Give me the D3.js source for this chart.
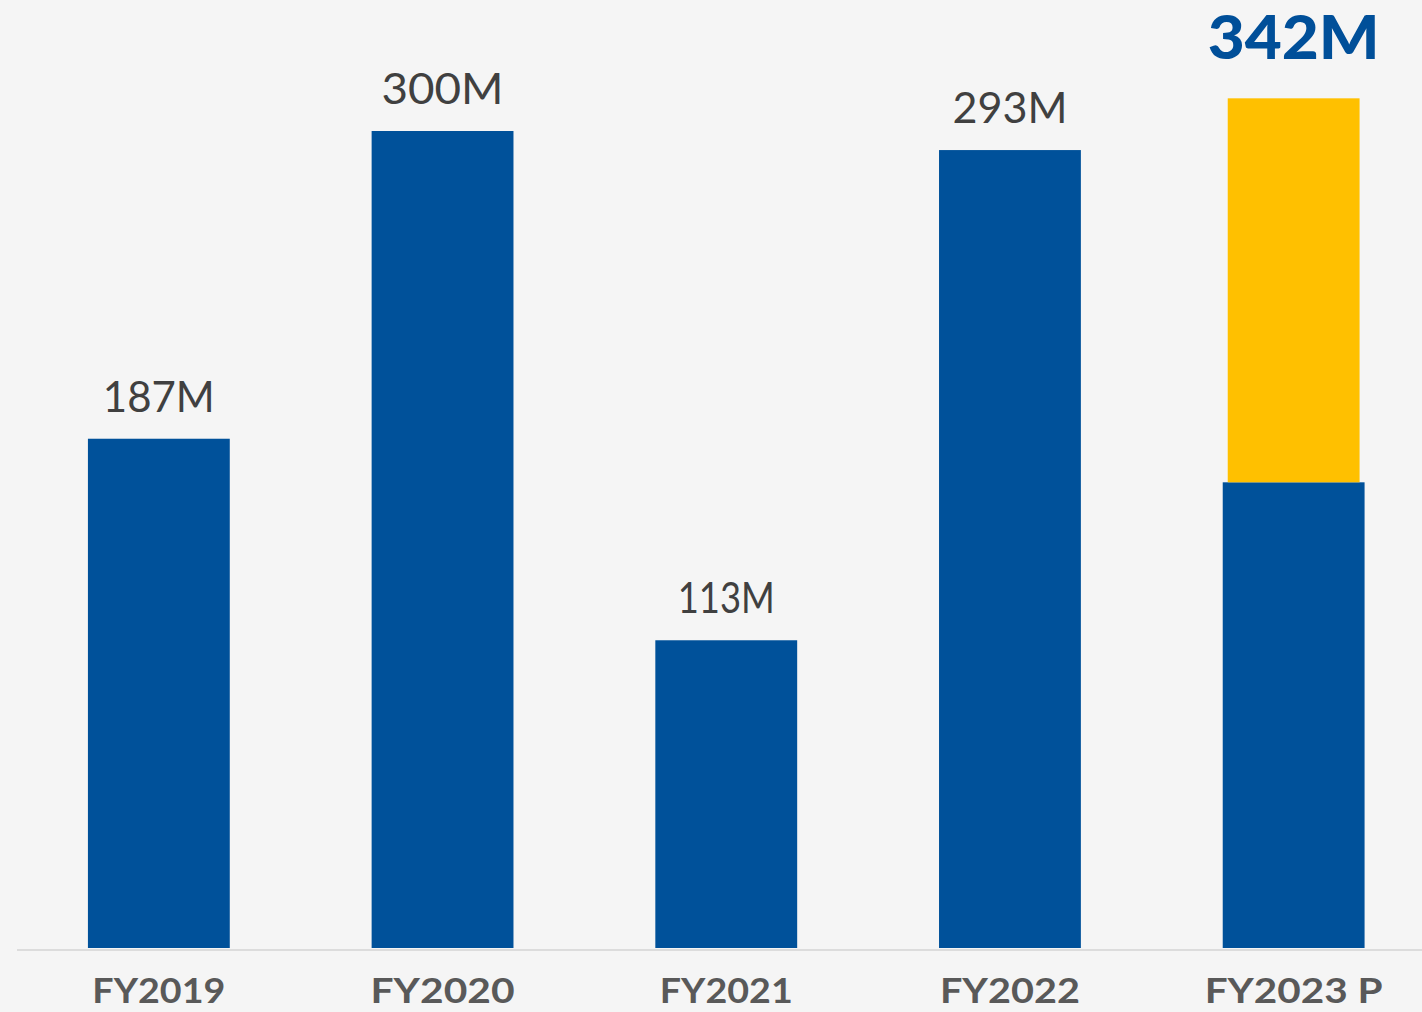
<!DOCTYPE html>
<html>
<head>
<meta charset="utf-8">
<script src="https://cdn.jsdelivr.net/npm/d3@7"></script>
<style>
  html, body { margin: 0; padding: 0; background: #f5f5f5; overflow: hidden; }
</style>
</head>
<body>
<div id="chart"></div>
<script>
// Revenue by fiscal year, FY2023 projected (base + projected uplift)
const years = ["FY2019", "FY2020", "FY2021", "FY2022", "FY2023 P"];
const baseValues = [187, 300, 113, 293, 171];
const projectedValues = [0, 0, 0, 0, 141];
const valueLabels = ["187M", "300M", "113M", "293M", "342M"];

const width = 1422, height = 1012;
const baseY = 948;

const svg = d3.select("#chart")
    .append("svg")
    .attr("width", width)
    .attr("height", height);

svg.append("rect")
    .attr("width", width)
    .attr("height", height)
    .attr("fill", "#f5f5f5");

const x = d3.scaleBand()
    .domain(years)
    .range([17, 1435.5])
    .paddingInner(0.5)
    .paddingOuter(0.25);

const y = d3.scaleLinear()
    .domain([0, 300])
    .range([baseY, 131]);

const g = svg.append("g");

// base bars
g.selectAll(".bar")
    .data(years)
    .enter()
    .append("rect")
    .attr("class", "bar")
    .attr("x", d => x(d))
    .attr("width", x.bandwidth())
    .attr("y", (d, i) => y(baseValues[i]))
    .attr("height", (d, i) => y(0) - y(baseValues[i]))
    .attr("fill", "#00519a");

// projected part (slightly narrower, sits on top)
g.selectAll(".proj")
    .data(years.filter((d, i) => projectedValues[i] > 0))
    .enter()
    .append("rect")
    .attr("class", "proj")
    .attr("x", d => x(d) + 5)
    .attr("width", x.bandwidth() - 10)
    .attr("y", d => {
        const i = years.indexOf(d);
        return y(baseValues[i] + projectedValues[i]);
    })
    .attr("height", d => {
        const i = years.indexOf(d);
        return y(baseValues[i]) - y(baseValues[i] + projectedValues[i]);
    })
    .attr("fill", "#ffc000");

// baseline
svg.append("line")
    .attr("x1", 17)
    .attr("x2", width)
    .attr("y1", baseY + 2)
    .attr("y2", baseY + 2)
    .attr("stroke", "#dcdcdc")
    .attr("stroke-width", 2);

// value labels
const valueWidths = [112, 122, 97, 115, 172];
years.forEach(function(d, i) {
    const total = baseValues[i] + projectedValues[i];
    const last = i === years.length - 1;
    g.append("text")
        .attr("x", x(d) + x.bandwidth() / 2)
        .attr("y", y(total) - (last ? 39 : 27))
        .attr("text-anchor", "middle")
        .attr("font-family", "Lato, 'Open Sans', sans-serif")
        .attr("font-size", last ? "60px" : "43px")
        .attr("font-weight", last ? "900" : "400")
        .attr("fill", last ? "#004f99" : "#404040")
        .attr("textLength", valueWidths[i])
        .attr("lengthAdjust", "spacingAndGlyphs")
        .text(valueLabels[i]);
});

// category labels
const catWidths = [133, 144, 133, 140, 178];
g.selectAll(".cat")
    .data(years)
    .enter()
    .append("text")
    .attr("class", "cat")
    .attr("x", d => x(d) + x.bandwidth() / 2)
    .attr("y", 1003)
    .attr("text-anchor", "middle")
    .attr("font-family", "Lato, 'Open Sans', sans-serif")
    .attr("font-size", "35px")
    .attr("font-weight", "700")
    .attr("fill", "#595959")
    .attr("textLength", (d, i) => catWidths[i])
    .attr("lengthAdjust", "spacingAndGlyphs")
    .text(d => d);
</script>
</body>
</html>
